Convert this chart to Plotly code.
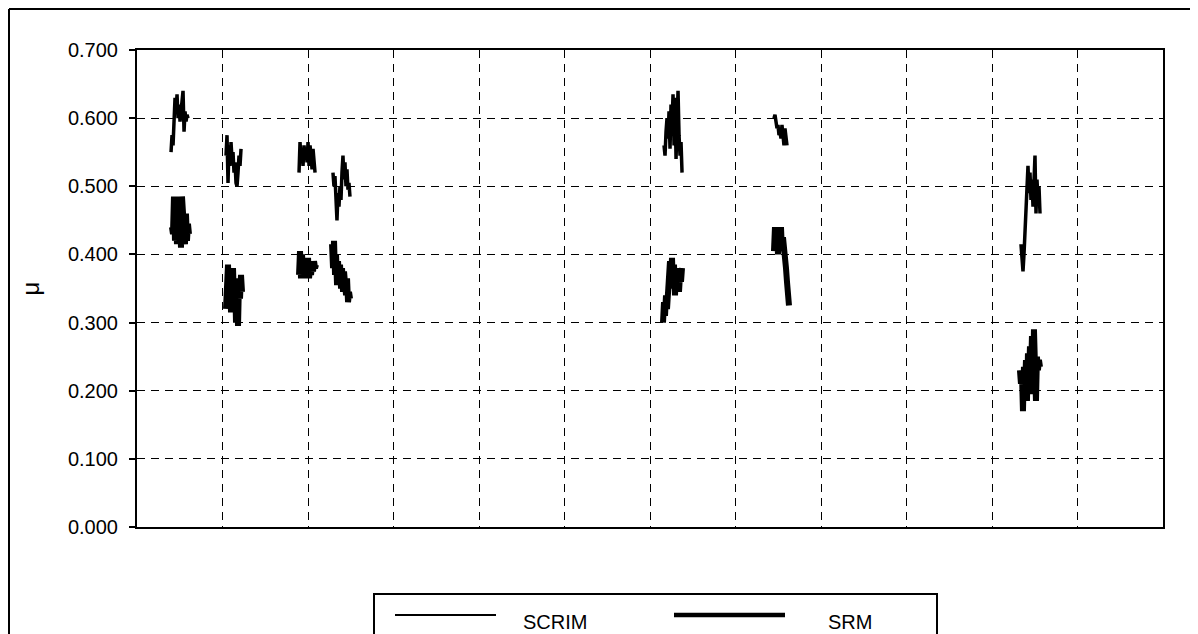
import plotly.graph_objects as go

# ---------------- data ----------------
# chainage of the first reading of each survey section (x-axis units)
scrim_starts = [0.398, 1.041, 1.895, 2.292, 6.164, 7.450, 10.339]
srm_starts = [0.409, 1.041, 1.895, 2.281, 6.152, 7.450, 10.327]
reading_step = 0.0117  # spacing between consecutive readings

scrim_s1 = [0.550, 0.575, 0.560, 0.600, 0.630, 0.610, 0.635, 0.600, 0.620, 0.595,
            0.610, 0.630, 0.640, 0.580, 0.610, 0.595, 0.605, 0.600]
scrim_s2 = [0.545, 0.575, 0.505, 0.560, 0.530, 0.565, 0.540, 0.550, 0.520, 0.535,
            0.505, 0.500, 0.520, 0.545, 0.530, 0.555]
scrim_s3 = [0.520, 0.565, 0.540, 0.555, 0.530, 0.560, 0.545, 0.555, 0.535, 0.565,
            0.530, 0.560, 0.545, 0.525, 0.555, 0.540, 0.520]
scrim_s4 = [0.520, 0.500, 0.515, 0.470, 0.450, 0.490, 0.470, 0.500, 0.480, 0.520,
            0.545, 0.510, 0.535, 0.500, 0.525, 0.495, 0.505, 0.485]
scrim_s5 = [0.560, 0.545, 0.580, 0.600, 0.570, 0.610, 0.555, 0.620, 0.590, 0.635,
            0.560, 0.630, 0.540, 0.600, 0.640, 0.575, 0.545, 0.565, 0.520]
scrim_s6 = [0.600, 0.605, 0.595, 0.585, 0.590, 0.575, 0.580, 0.570, 0.590, 0.575,
            0.560, 0.585, 0.565, 0.560]
scrim_s7 = [0.415, 0.395, 0.375, 0.400, 0.440, 0.470, 0.500, 0.530, 0.490, 0.520,
            0.480, 0.510, 0.470, 0.530, 0.545, 0.460, 0.510, 0.480, 0.500, 0.460]

srm_s1 = [0.440, 0.430, 0.485, 0.420, 0.460, 0.415, 0.485, 0.430, 0.470, 0.410,
          0.485, 0.440, 0.450, 0.415, 0.460, 0.420, 0.445, 0.430]
srm_s2 = [0.320, 0.370, 0.385, 0.340, 0.375, 0.315, 0.360, 0.380, 0.330, 0.365,
          0.300, 0.350, 0.295, 0.360, 0.335, 0.370, 0.345]
srm_s3 = [0.370, 0.405, 0.365, 0.400, 0.375, 0.390, 0.365, 0.385, 0.370, 0.395,
          0.365, 0.380, 0.370, 0.385, 0.375, 0.390, 0.380, 0.385]
srm_s4 = [0.415, 0.380, 0.420, 0.370, 0.400, 0.355, 0.390, 0.360, 0.385, 0.350,
          0.380, 0.345, 0.375, 0.355, 0.340, 0.365, 0.330, 0.345, 0.335]
srm_s5 = [0.300, 0.330, 0.310, 0.340, 0.320, 0.360, 0.345, 0.390, 0.360, 0.395,
          0.350, 0.385, 0.340, 0.375, 0.355, 0.380, 0.345, 0.370, 0.360, 0.380]
srm_s6 = [0.405, 0.440, 0.410, 0.435, 0.400, 0.430, 0.420, 0.440, 0.405, 0.425,
          0.395, 0.410, 0.380, 0.360, 0.340, 0.325]
srm_s7 = [0.230, 0.210, 0.225, 0.170, 0.235, 0.200, 0.245, 0.185, 0.255, 0.215,
          0.265, 0.225, 0.280, 0.195, 0.290, 0.240, 0.185, 0.250, 0.230, 0.245, 0.235]

scrim_sections = [scrim_s1, scrim_s2, scrim_s3, scrim_s4, scrim_s5, scrim_s6, scrim_s7]
srm_sections = [srm_s1, srm_s2, srm_s3, srm_s4, srm_s5, srm_s6, srm_s7]

y_tick_values = [0.0, 0.1, 0.2, 0.3, 0.4, 0.5, 0.6, 0.7]
series_names = ["SCRIM", "SRM"]


def join_sections(starts, sections):
    xs, ys = [], []
    for s, vals in zip(starts, sections):
        for i, v in enumerate(vals):
            xs.append(s + i * reading_step)
            ys.append(v)
        xs.append(None)
        ys.append(None)
    return xs, ys


scrim_x, scrim_y = join_sections(scrim_starts, scrim_sections)
srm_x, srm_y = join_sections(srm_starts, srm_sections)

FONT = "Liberation Sans, Arial, sans-serif"

fig = go.Figure()
fig.add_trace(go.Scatter(x=scrim_x, y=scrim_y, mode="lines", name=series_names[0],
                         line=dict(color="black", width=3.5), connectgaps=False,
                         showlegend=False))
fig.add_trace(go.Scatter(x=srm_x, y=srm_y, mode="lines", name=series_names[1],
                         line=dict(color="black", width=6), connectgaps=False,
                         showlegend=False))

# page body has an 8px margin: the figure's origin sits at (8, 8) in the screenshot
OFF = 8
W, H = 1198, 634
L, R, T, B = 137, 1163, 50, 527   # plot area in screenshot pixels
pw, ph = R - L, B - T


def px(xp):
    return (xp - L) / pw


def py(yp):
    return (B - yp) / ph


fig.update_layout(
    width=W - OFF, height=H - OFF,
    margin=dict(l=L - OFF, r=W - R, t=T - OFF, b=H - B, pad=0, autoexpand=False),
    paper_bgcolor="white", plot_bgcolor="white",
    font=dict(family=FONT, color="black", size=20),
)

fig.update_xaxes(range=[0, 12], dtick=1, tick0=0, showticklabels=False,
                 showgrid=True, gridcolor="black", gridwidth=1.3, griddash="8px,6px",
                 zeroline=False, showline=True, linecolor="black", linewidth=2,
                 mirror=True, ticks="", automargin=False)
fig.update_yaxes(range=[0, 0.7], tickvals=y_tick_values, tickformat=".3f",
                 showgrid=True, gridcolor="black", gridwidth=1.3, griddash="8px,6px",
                 zeroline=False, showline=True, linecolor="black", linewidth=2,
                 mirror=True, ticks="outside", ticklen=6, tickwidth=1.5,
                 tickcolor="black", ticklabelstandoff=7, automargin=False,
                 tickfont=dict(family=FONT, size=20, color="black"),
                 title=dict(text="μ", font=dict(family=FONT, size=24, color="black"),
                            standoff=22))

shapes = []
# outer chart-area frame (top and left edges visible)
shapes.append(dict(type="line", xref="paper", yref="paper",
                   x0=px(9), x1=px(1260), y0=py(9), y1=py(9),
                   line=dict(color="black", width=2)))
shapes.append(dict(type="line", xref="paper", yref="paper",
                   x0=px(9), x1=px(9), y0=py(9), y1=py(700),
                   line=dict(color="black", width=2)))
# legend box
shapes.append(dict(type="rect", xref="paper", yref="paper",
                   x0=px(374), x1=px(937), y0=py(594), y1=py(660),
                   line=dict(color="black", width=2), fillcolor="white"))
# legend samples
shapes.append(dict(type="line", xref="paper", yref="paper",
                   x0=px(395), x1=px(496), y0=py(615), y1=py(615),
                   line=dict(color="black", width=2)))
shapes.append(dict(type="line", xref="paper", yref="paper",
                   x0=px(674), x1=px(785), y0=py(615), y1=py(615),
                   line=dict(color="black", width=4.5)))
fig.update_layout(shapes=shapes)

fig.add_annotation(text=series_names[0], xref="paper", yref="paper",
                   x=px(521), y=py(635), xanchor="left", yanchor="bottom",
                   showarrow=False, font=dict(family=FONT, size=20, color="black"))
fig.add_annotation(text=series_names[1], xref="paper", yref="paper",
                   x=px(826), y=py(635), xanchor="left", yanchor="bottom",
                   showarrow=False, font=dict(family=FONT, size=20, color="black"))

fig.write_html("out.html")
